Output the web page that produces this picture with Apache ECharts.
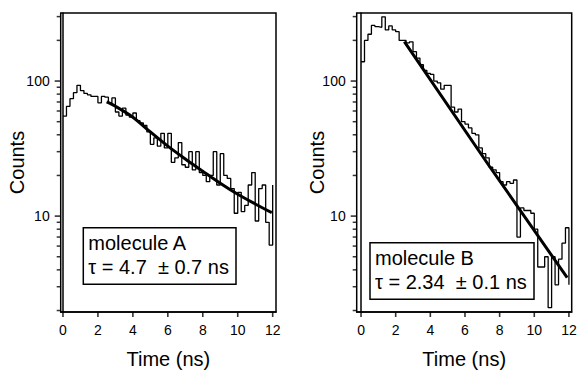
<!DOCTYPE html>
<html><head><meta charset="utf-8">
<script src="https://cdn.jsdelivr.net/npm/echarts@6/dist/echarts.min.js"></script>
<style>html,body{margin:0;padding:0;background:#fff}#c{width:579px;height:370px}</style>
</head><body><div id="c"></div><script>
// ---- data ----
const binStart = [0,0.2,0.4,0.6,0.8,1.0,1.2,1.4,1.6,1.8,2.0,2.2,2.4,2.6,2.8,3.0,3.2,3.4,3.6,3.8,
  4.0,4.2,4.4,4.6,4.8,5.0,5.2,5.4,5.6,5.8,6.0,6.2,6.4,6.6,6.8,7.0,7.2,7.4,7.6,7.8,
  8.0,8.2,8.4,8.6,8.8,9.0,9.2,9.4,9.6,9.8,10.0,10.2,10.4,10.6,10.8,11.0,11.2,11.4,11.6,11.8];
const countsA = [55,65,74,82,93,85,81,79,77,77,69,77,76,69,75,59,55,63,56,54,
  58,51,49,47,42,34,38,33,41,32,41,25,27,35,24,23,30,22,30,21,
  20,18,20,30,17,29,20,19,16,10.5,15,10.8,12,17,21,9.2,16,17,9,6.1];
const endA = 17;
const countsB = [139,200,222,258,253,250,299,239,256,239,232,200,200,192,195,165,148,132,120,114,
  112,100,97,87,93,93,64,59,62,50,48,45,41,40,32,29,27,23,22,21,
  18,17,18,17.5,18.5,7,11.5,11,11,10.5,8,4.2,4.2,5,2.1,5,3.1,4.8,6.3,8.2];
const endB = 3.1;
const fitA = [[2.5,70],[3,65],[4,54],[5,42],[6,33],[7,26.5],[8,21.5],[9,17.5],[10,14.5],[11,12.3],[11.95,10.6]];
const fitB = [[2.5,196],[7.4,23.5],[11.9,3.5]];
const xTicks = [0,2,4,6,8,10,12];
const yLabels = [10,100];
const yMinor = [2,3,4,5,6,7,8,9,20,30,40,50,60,70,80,90,200,300];
const xName = 'Time (ns)';
const yName = 'Counts';
const boxA = ['molecule A','τ = 4.7  ± 0.7 ns'];
const boxB = ['molecule B','τ = 2.34  ± 0.1 ns'];

// ---- chart ----
const FONT = '"Liberation Sans", Arial, Helvetica, sans-serif';
const Y_MIN = 1.95, Y_MAX = 319;
const X_RANGE = [[-0.13,12.19],[-0.25,12.16]];
function hist(counts, endVal){
  const d = binStart.map((t,i)=>[t, counts[i]]);
  d.push([12, endVal]);
  return d;
}
function xAxisDef(gi){
  return {type:'value', gridIndex:gi, min:X_RANGE[gi][0], max:X_RANGE[gi][1],
    axisLine:{show:true,lineStyle:{color:'#000',width:1.5}},
    axisTick:{show:false},
    axisLabel:{color:'#000',fontSize:14,fontFamily:FONT,margin:11,customValues:xTicks},
    splitLine:{show:false},
    name:xName,nameLocation:'middle',nameGap:37,nameMoveOverlap:false,
    nameTextStyle:{color:'#000',fontSize:20,fontFamily:FONT}};
}
function yAxisDef(gi, gap){
  return {type:'log', gridIndex:gi, min:Y_MIN, max:Y_MAX, position:'left',
    axisLine:{show:true,lineStyle:{color:'#000',width:1.5}},
    axisTick:{show:false},
    axisLabel:{color:'#000',fontSize:14,fontFamily:FONT,margin:11,customValues:yLabels},
    splitLine:{show:false},
    name:yName,nameLocation:'middle',nameGap:gap,nameMoveOverlap:false,
    nameTextStyle:{color:'#000',fontSize:20,fontFamily:FONT}};
}
// tick marks drawn as small bars placed through the axes' own scales
function tickSeries(gi){
  const xmin = X_RANGE[gi][0];
  const common = {type:'scatter', xAxisIndex:gi, yAxisIndex:gi, symbol:'rect', clip:false, silent:true,
    itemStyle:{color:'#000'}, z:5};
  return [
    Object.assign({}, common, {data:yMinor.map(v=>[xmin,v]), symbolSize:[4,1.5], symbolOffset:[-2,0]}),
    Object.assign({}, common, {data:yLabels.map(v=>[xmin,v]), symbolSize:[6,1.6], symbolOffset:[-3,0]}),
    Object.assign({}, common, {data:xTicks.map(t=>[t,Y_MIN]), symbolSize:[1.6,5], symbolOffset:[0,2.5]})
  ];
}
function boxGraphics(x,y,w,h,lines,ly1,ly2){
  return [
    {type:'rect',shape:{x:x,y:y,width:w,height:h},style:{fill:'#fff',stroke:'#000',lineWidth:1.5},z:100},
    {type:'text',x:x+5,y:ly1,style:{text:lines[0],font:'20px '+FONT,fill:'#000',align:'left',verticalAlign:'middle'},z:101},
    {type:'text',x:x+5,y:ly2,style:{text:lines[1],font:'20px '+FONT,fill:'#000',align:'left',verticalAlign:'middle'},z:101}
  ];
}
const chart = echarts.init(document.getElementById('c'), null, {renderer:'svg', width:579, height:370});
chart.setOption({
  animation:false,
  backgroundColor:'#fff',
  grid:[
    {left:60.7,right:303,top:13,bottom:58,show:true,borderColor:'#000',borderWidth:1.5,outerBoundsMode:'none',containLabel:false},
    {left:356.7,right:7.3,top:13,bottom:58,show:true,borderColor:'#000',borderWidth:1.5,outerBoundsMode:'none',containLabel:false}
  ],
  xAxis:[xAxisDef(0), xAxisDef(1)],
  yAxis:[yAxisDef(0,33.5), yAxisDef(1,30)],
  series:[
    {type:'line',xAxisIndex:0,yAxisIndex:0,step:'end',data:hist(countsA,endA),symbol:'none',lineStyle:{color:'#000',width:1.3}},
    {type:'line',xAxisIndex:0,yAxisIndex:0,data:fitA,symbol:'none',smooth:0.3,lineStyle:{color:'#000',width:3}},
    {type:'line',xAxisIndex:1,yAxisIndex:1,step:'end',data:hist(countsB,endB),symbol:'none',lineStyle:{color:'#000',width:1.3}},
    {type:'line',xAxisIndex:1,yAxisIndex:1,data:fitB,symbol:'none',lineStyle:{color:'#000',width:3}}
  ].concat(tickSeries(0), tickSeries(1)),
  graphic: boxGraphics(83.3,227.7,152.7,56.6,boxA,243,267)
    .concat(boxGraphics(370,242.7,164,56.6,boxB,258,282))
});
</script></body></html>
